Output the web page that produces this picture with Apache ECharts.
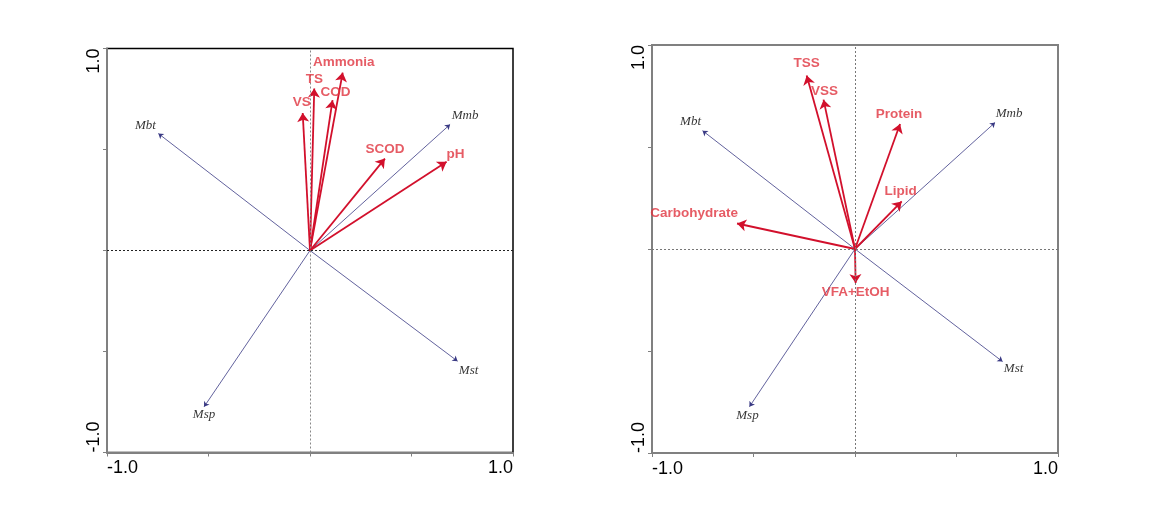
<!DOCTYPE html>
<html>
<head>
<meta charset="utf-8">
<script src="https://cdn.jsdelivr.net/npm/echarts@6/dist/echarts.min.js"></script>
<style>
html,body{margin:0;padding:0;background:#fff;}
#chart{width:1155px;height:513px;}
</style>
</head>
<body>
<div id="chart"></div>
<script>
// ---- Data ----
const AXIS_TICKS = [-1.0, -0.5, 0, 0.5, 1.0];

const SPECIES = ['Mbt', 'Mmb', 'Mst', 'Msp'];

// Left panel
const LEFT_ENV = ['VS', 'TS', 'COD', 'Ammonia', 'SCOD', 'pH'];
const LEFT_ENV_X = [-0.036, 0.021, 0.111, 0.161, 0.369, 0.673];
const LEFT_ENV_Y = [0.681, 0.802, 0.744, 0.881, 0.455, 0.439];
const LEFT_SP_X = [-0.747, 0.690, 0.727, -0.522];
const LEFT_SP_Y = [0.579, 0.624, -0.548, -0.774];

// Right panel
const RIGHT_ENV = ['TSS', 'VSS', 'Protein', 'Lipid', 'Carbohydrate', 'VFA+EtOH'];
const RIGHT_ENV_X = [-0.238, -0.155, 0.222, 0.230, -0.581, 0.003];
const RIGHT_ENV_Y = [0.850, 0.732, 0.613, 0.233, 0.125, -0.167];
const RIGHT_SP_X = [-0.751, 0.690, 0.727, -0.520];
const RIGHT_SP_Y = [0.580, 0.620, -0.552, -0.773];

// ---- Label layout (pixel offsets from arrow tips) ----
const LEFT_ENV_OFF = [[-1,-11],[0,-9],[3,-8],[1,-10],[0,-9],[9,-8]];
const LEFT_SP_OFF = [[-13,-8],[15,-9],[11,9],[0,8]];
const RIGHT_ENV_OFF = [[0,-12],[1,-8],[-1,-10],[-1,-10],[-43,-10],[0,9]];
const RIGHT_SP_OFF = [[-12,-9],[14,-9],[11,7],[-2,9]];

const RED = '#d2102c';
const RED_TEXT = '#e0333f';
const BLUE = '#3a3a84';
const GRAY = '#808080';

function axisPair(idx) {
  const common = {
    type: 'value', gridIndex: idx, min: -1, max: 1, interval: 0.5,
    splitLine: {show: false},
    axisLine: {show: true, onZero: false, lineStyle: {color: GRAY, width: 2}},
    axisTick: {show: true, length: 4, lineStyle: {color: GRAY, width: 1}},
  };
  const fmt = v => (Math.abs(v - AXIS_TICKS[0]) < 1e-9 || Math.abs(v - AXIS_TICKS[4]) < 1e-9) ? v.toFixed(1) : '';
  return {
    x: Object.assign({}, common, {
      axisLabel: {formatter: fmt, fontFamily: 'Liberation Sans, Arial', fontSize: 18, color: '#000', margin: 7,
        showMinLabel: true, showMaxLabel: true, alignMinLabel: 'left', alignMaxLabel: 'right'}
    }),
    y: Object.assign({}, common, {
      axisLabel: {formatter: fmt, fontFamily: 'Liberation Sans, Arial', fontSize: 18, color: '#000', margin: 4,
        rotate: 90, showMinLabel: true, showMaxLabel: true, alignMinLabel: 'left', alignMaxLabel: 'right'}
    })
  };
}

function panelSeries(idx, envNames, envX, envY, spX, spY, envOff, spOff, hColor, vColor) {
  const series = [];
  series.push({
    type: 'scatter', xAxisIndex: idx, yAxisIndex: idx, data: [], silent: true, z: 1,
    markLine: {
      silent: true, symbol: 'none', animation: false,
      label: {show: false},
      data: [
        {yAxis: 0, lineStyle: {type: [2, 2], color: hColor, width: 1}},
        {xAxis: 0, lineStyle: {type: [2, 2], color: vColor, width: 1}}
      ]
    }
  });
  series.push({
    type: 'lines', coordinateSystem: 'cartesian2d', xAxisIndex: idx, yAxisIndex: idx,
    z: 3, symbol: ['none', 'arrow'], symbolSize: 5, silent: true, animation: false,
    lineStyle: {color: BLUE, width: 0.8, opacity: 1},
    data: SPECIES.map((n, i) => ({coords: [[0, 0], [spX[i], spY[i]]]}))
  });
  series.push({
    type: 'lines', coordinateSystem: 'cartesian2d', xAxisIndex: idx, yAxisIndex: idx,
    z: 4, symbol: ['none', 'arrow'], symbolSize: 9, silent: true, animation: false,
    lineStyle: {color: RED, width: 1.8, opacity: 1},
    data: envNames.map((n, i) => ({coords: [[0, 0], [envX[i], envY[i]]]}))
  });
  series.push({
    type: 'scatter', xAxisIndex: idx, yAxisIndex: idx, symbolSize: 0, z: 5, silent: true, animation: false,
    data: SPECIES.map((n, i) => ({
      value: [spX[i], spY[i]], name: n,
      label: {offset: spOff[i]}
    })),
    label: {show: true, position: 'inside', formatter: p => p.name,
      fontFamily: 'Liberation Serif, Times New Roman', fontStyle: 'italic', fontSize: 13, color: '#000'}
  });
  series.push({
    type: 'scatter', xAxisIndex: idx, yAxisIndex: idx, symbolSize: 0, z: 6, silent: true, animation: false,
    data: envNames.map((n, i) => ({
      value: [envX[i], envY[i]], name: n,
      label: {offset: envOff[i]}
    })),
    label: {show: true, position: 'inside', formatter: p => p.name,
      fontFamily: 'Liberation Sans, Arial', fontWeight: 'bold', fontSize: 13.5, color: RED_TEXT}
  });
  return series;
}

const a0 = axisPair(0), a1 = axisPair(1);
const chart = echarts.init(document.getElementById('chart'), null, {renderer: 'canvas'});
chart.setOption({
  animation: false,
  backgroundColor: '#fff',
  grid: [
    {left: 107, top: 48.5, width: 406, height: 404, show: true, borderColor: '#000', borderWidth: 1.5, backgroundColor: 'transparent'},
    {left: 652, top: 45, width: 406, height: 408, show: true, borderColor: GRAY, borderWidth: 2, backgroundColor: 'transparent'}
  ],
  xAxis: [a0.x, a1.x],
  yAxis: [a0.y, a1.y],
  series: [].concat(
    panelSeries(0, LEFT_ENV, LEFT_ENV_X, LEFT_ENV_Y, LEFT_SP_X, LEFT_SP_Y, LEFT_ENV_OFF, LEFT_SP_OFF, '#222', '#888'),
    panelSeries(1, RIGHT_ENV, RIGHT_ENV_X, RIGHT_ENV_Y, RIGHT_SP_X, RIGHT_SP_Y, RIGHT_ENV_OFF, RIGHT_SP_OFF, '#777', '#777')
  )
});
</script>
</body>
</html>
